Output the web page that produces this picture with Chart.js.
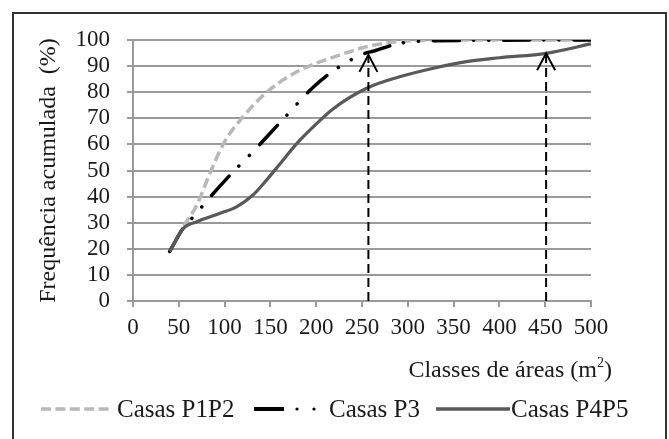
<!DOCTYPE html>
<html>
<head>
<meta charset="utf-8">
<script src="https://cdn.jsdelivr.net/npm/chart.js@4.4.1/dist/chart.umd.min.js"></script>
<style>
body{margin:0;background:#fff;font-family:"Liberation Serif",serif;color:#1a1a1a;}
#wrap{position:relative;width:669px;height:439px;overflow:hidden;}
#frame{position:absolute;left:12px;top:12px;width:651px;height:470px;border:2px solid #333;}
canvas{position:absolute;left:0;top:0;}
.xtitle{position:absolute;right:57px;top:356px;font-size:24px;line-height:26px;white-space:nowrap;}
.xtitle sup{font-size:14px;vertical-align:top;line-height:14px;}
.leg{position:absolute;top:396px;display:flex;align-items:center;font-size:25px;line-height:26px;white-space:nowrap;}
.leg svg{margin-right:4px;}
</style>
</head>
<body>
<div id="wrap">
  <div id="frame"></div>
  <canvas id="areaChart" width="669" height="439"></canvas>
  <div class="xtitle">Classes de áreas (m<sup>2</sup>)</div>
  <div class="leg" style="left:41px">
    <svg width="72" height="10"><line x1="0" y1="5" x2="72" y2="5" stroke="#b8b8b8" stroke-width="3.5" stroke-dasharray="10,4.4"/></svg>Casas P1P2
  </div>
  <div class="leg" style="left:254px">
    <svg width="72" height="10" style="margin-right:3px"><line x1="0" y1="5" x2="30" y2="5" stroke="#000" stroke-width="4"/><circle cx="43" cy="5" r="1.6" fill="#000"/><circle cx="60" cy="5" r="1.6" fill="#000"/></svg>Casas P3
  </div>
  <div class="leg" style="left:436px">
    <svg width="74" height="10" style="margin-right:1px"><line x1="0" y1="5" x2="74" y2="5" stroke="#595959" stroke-width="3.5"/></svg>Casas P4P5
  </div>
</div>
<script>
// cumulative frequency (%), by area class (m2)
const areaP1P2 = [40, 55, 70, 84, 100, 120, 146, 180, 226, 255, 291, 350, 500];
const freqP1P2 = [19, 28.5, 37, 49, 61, 70.5, 80, 88, 94.3, 97.4, 99.4, 100, 100];
const areaP3 = [40, 55, 66, 88, 108, 131, 163, 197, 220, 249, 264, 291, 330, 500];
const freqP3 = [19, 28, 32.3, 41.3, 49, 57.2, 69.3, 82, 88.5, 94.3, 95.9, 98.7, 99.7, 100];
const areaP4P5 = [40, 55, 70, 95, 113, 131, 146, 161, 179, 197, 218, 255, 291, 328, 364, 400, 451, 500];
const freqP4P5 = [19, 27.8, 30.4, 33.6, 36.1, 40.6, 46.4, 52.8, 60.4, 66.8, 73.5, 81.5, 85.9, 89.2, 91.7, 93.2, 94.9, 98.5];
// the two marked areas (dashed arrows)
const arrowAreas = [257, 451];
const arrowTips = [94.3, 94.9];

const font = { family: '"Liberation Serif", serif', size: 23 };
const gridGray = '#9a9a9a';

function toPoints(xs, ys){
    return xs.map((v, i) => ({ x: v, y: ys[i] }));
}

const curveBase = { pointRadius: 0, cubicInterpolationMode: 'monotone', fill: false };

const arrowSets = arrowAreas.map((a, i) => ({
    data: [{ x: a, y: 0 }, { x: a, y: arrowTips[i] }],
    borderColor: '#000',
    borderWidth: 2,
    borderDash: [9, 5],
    pointRadius: 0,
    order: 0
}));

// open V heads on the arrows
const arrowHeads = {
    id: 'arrowHeads',
    afterDatasetsDraw(chart){
        const { ctx, scales: { x, y } } = chart;
        ctx.save();
        ctx.strokeStyle = '#000';
        ctx.lineWidth = 2;
        arrowAreas.forEach((a, i) => {
            const px = x.getPixelForValue(a);
            const py = y.getPixelForValue(arrowTips[i]);
            ctx.beginPath();
            ctx.moveTo(px - 9, py + 17);
            ctx.lineTo(px, py);
            ctx.lineTo(px + 9, py + 17);
            ctx.stroke();
        });
        ctx.restore();
    }
};

new Chart(document.getElementById('areaChart'), {
    type: 'line',
    data: {
        datasets: [
            { ...curveBase, label: 'Casas P1P2', data: toPoints(areaP1P2, freqP1P2),
              borderColor: '#b8b8b8', borderWidth: 3.5, borderDash: [10, 4.5], order: 3 },
            { ...curveBase, label: 'Casas P3', data: toPoints(areaP3, freqP3),
              borderColor: '#000', borderWidth: 3.5, borderCapStyle: 'round',
              borderDash: [26, 14, 0.1, 15, 0.1, 15], order: 2 },
            { ...curveBase, label: 'Casas P4P5', data: toPoints(areaP4P5, freqP4P5),
              borderColor: '#595959', borderWidth: 3.2, order: 1 },
            ...arrowSets
        ]
    },
    options: {
        responsive: false,
        animation: false,
        devicePixelRatio: 1,
        layout: { padding: { left: 0, top: 40, right: 78, bottom: 0 } },
        plugins: { legend: { display: false }, tooltip: { enabled: false } },
        scales: {
            x: {
                type: 'linear',
                min: 0,
                max: 500,
                afterFit: (s) => { s.height = 138; },
                ticks: { stepSize: 50, autoSkip: false, maxRotation: 0, color: '#1a1a1a', font: font, padding: 7 },
                grid: { drawOnChartArea: false, drawTicks: true, tickLength: 6, color: gridGray, lineWidth: 2 },
                border: { color: gridGray, width: 2 }
            },
            y: {
                min: 0,
                max: 100,
                afterFit: (s) => { s.width = 133; },
                ticks: { stepSize: 10, autoSkip: false, color: '#1a1a1a', font: font, padding: 17 },
                grid: { color: gridGray, lineWidth: 2, tickLength: 6 },
                border: { color: gridGray, width: 2 },
                title: { display: true, text: 'Frequência acumulada  (%)', color: '#1a1a1a', font: { family: font.family, size: 24 }, padding: { top: 34 } }
            }
        }
    },
    plugins: [arrowHeads]
});
</script>
</body>
</html>
